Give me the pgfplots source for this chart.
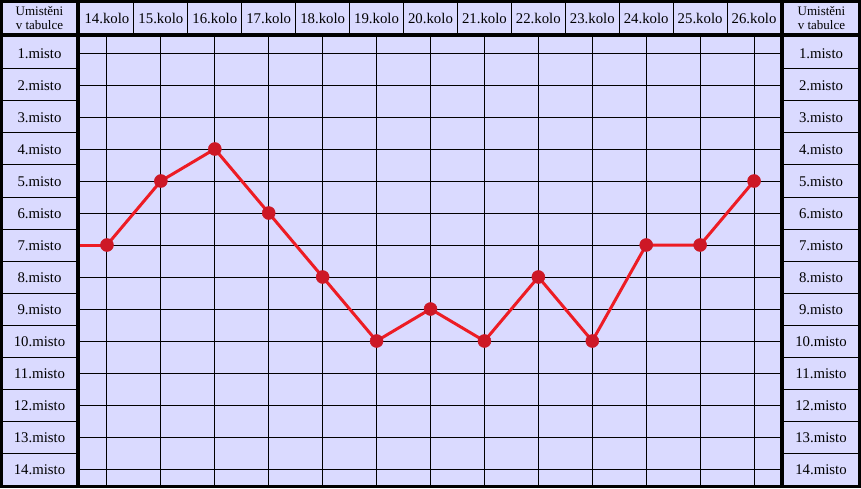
\documentclass[border=0pt]{standalone}
\usepackage{fontspec}
\setmainfont{Liberation Serif}
\usepackage{pgfplots}
\pgfplotsset{compat=1.18}
\definecolor{bg}{RGB}{218,218,255}
\definecolor{lineRed}{RGB}{237,28,36}
\definecolor{markRed}{RGB}{205,24,38}
\begin{document}
\begin{tikzpicture}[x=1pt,y=1pt]
\fill[bg] (-80,-3) rectangle (781,485);
\begin{axis}[
  at={(0,0)}, anchor=south west,
  scale only axis, width=701pt, height=448pt,
  xmin=13.5, xmax=26.5, ymin=0.5, ymax=14.5, y dir=reverse,
  xtick={14,...,26},
  xticklabels={14.kolo,15.kolo,16.kolo,17.kolo,18.kolo,19.kolo,20.kolo,21.kolo,22.kolo,23.kolo,24.kolo,25.kolo,26.kolo},
  ytick={1,...,14},
  yticklabels={1.misto,2.misto,3.misto,4.misto,5.misto,6.misto,7.misto,8.misto,9.misto,10.misto,11.misto,12.misto,13.misto,14.misto},
  xticklabel pos=top,
  major tick length=0pt,
  grid=major,
  grid style={black, line width=1pt},
  axis line style={draw=none},
  ticklabel style={font=\fontsize{14.8pt}{17pt}\selectfont, inner sep=0pt},
  xticklabel style={anchor=center, yshift=18.5pt},
  yticklabel style={anchor=center, xshift=-40.5pt, yshift=-1pt},
]
\addplot[lineRed, line width=3pt, no markers] coordinates {(13,7) (14,7)};
\addplot[lineRed, line width=3pt, mark=*, mark size=6.5pt,
  mark options={fill=markRed, draw=markRed, line width=0.5pt}]
  coordinates {
  (14,7) (15,5) (16,4) (17,6) (18,8) (19,10) (20,9)
  (21,10) (22,8) (23,10) (24,7) (25,7) (26,5)
  };
\end{axis}
% right column labels
\foreach \k in {1,...,14} {
  \node[font=\fontsize{14.8pt}{17pt}\selectfont, inner sep=0pt] at (741,{464-32*\k-1}) {\k.misto};
}
% header corner cells
\node[align=center, font=\fontsize{13pt}{14pt}\selectfont, inner sep=0pt] at (-40.5,466.5) {Umistěni\\v tabulce};
\node[align=center, font=\fontsize{13pt}{14pt}\selectfont, inner sep=0pt] at (741.5,466.5) {Umistěni\\v tabulce};
% row borders in side columns
\foreach \k in {1,...,13} {
  \draw[line width=1pt] (-80,32*\k) -- (-2,32*\k);
  \draw[line width=1pt] (702,32*\k) -- (781,32*\k);
}
% header cell separators
\foreach \k in {1,...,12} {
  \draw[line width=1pt] ({\k*701/13},450) -- ({\k*701/13},485);
}
% thick separators
\draw[line width=4pt] (-80,450) -- (781,450);
\draw[line width=4pt] (-2,-3) -- (-2,485);
\draw[line width=4pt] (702,-3) -- (702,485);
% outer border
\draw[line width=3pt] (-78.5,-1.5) rectangle (779.5,483.5);
\pgfresetboundingbox
\path (-80,-3) rectangle (781,485);
\end{tikzpicture}
\end{document}
